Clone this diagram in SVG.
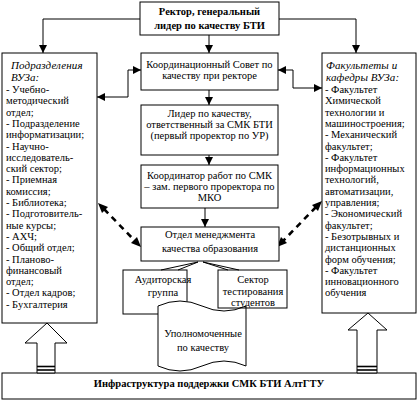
<svg xmlns="http://www.w3.org/2000/svg" width="419" height="412" viewBox="0 0 419 412">
<style>
.box{fill:#fff;stroke:#000;stroke-width:1}
.ln{fill:none;stroke:#000;stroke-width:1}
.dash{fill:none;stroke:#000;stroke-width:2.6;stroke-dasharray:6,5}
text{font-family:"Liberation Serif","Times New Roman",serif;font-size:10.5px;fill:#000}
.c{text-anchor:middle}
.b{font-weight:bold}
.h{font-style:italic;font-size:11px;letter-spacing:0.1px}
</style>
<defs>
<marker id="ah" markerUnits="userSpaceOnUse" markerWidth="9" markerHeight="9" refX="8" refY="4.5" orient="auto-start-reverse">
<path d="M0,0.5 L8,4.5 L0,8.5 Z" fill="#000"/>
</marker>
</defs>
<rect width="419" height="412" fill="#fff"/>
<g id="connectors">
<polyline class="ln" points="140,19 43,19 43,53" marker-end="url(#ah)"/>
<polyline class="ln" points="279,19 356,19 356,53" marker-end="url(#ah)"/>
<line class="ln" x1="209" y1="35" x2="209" y2="53" marker-end="url(#ah)"/>
<line class="ln" x1="209" y1="90" x2="209" y2="105" marker-end="url(#ah)"/>
<line class="ln" x1="209" y1="155" x2="209" y2="165" marker-end="url(#ah)"/>
<line class="ln" x1="205" y1="208" x2="205" y2="227" marker-end="url(#ah)"/>
<polyline class="ln" points="97,97 128,97 128,70 141,70" marker-start="url(#ah)" marker-end="url(#ah)"/>
<polyline class="ln" points="278,70 293,70 293,88 322,88" marker-start="url(#ah)" marker-end="url(#ah)"/>
<line class="dash" x1="104" y1="209" x2="136" y2="242"/>
<path d="M98,203 L108,207 L102,213 Z" fill="#000"/>
<path d="M141,247 L131,243 L137,237 Z" fill="#000"/>
<line class="dash" x1="316" y1="207" x2="283" y2="241"/>
<path d="M322,201 L318,211 L312,205 Z" fill="#000"/>
<path d="M277,247 L281,237 L287,243 Z" fill="#000"/>
</g>
<g id="top">
<rect class="box" x="140" y="2" width="139" height="33"/>
<text class="c b" x="209.5" y="15">Ректор, генеральный</text>
<text class="c b" x="209.5" y="29">лидер по качеству БТИ</text>
</g>
<g id="left">
<rect class="box" x="2" y="53" width="95" height="270"/>
<text class="h" x="11" y="69">Подразделения</text>
<text class="h" x="11" y="81">ВУЗа:</text>
<text x="6" y="93">- Учебно-</text>
<text x="6" y="104.3">методический</text>
<text x="6" y="115.6">отдел;</text>
<text x="6" y="126.9">- Подразделение</text>
<text x="6" y="138.2">информатизации;</text>
<text x="6" y="149.5">- Научно-</text>
<text x="6" y="160.8">исследователь-</text>
<text x="6" y="172.1">ский сектор;</text>
<text x="6" y="183.4">- Приемная</text>
<text x="6" y="194.7">комиссия;</text>
<text x="6" y="206">- Библиотека;</text>
<text x="6" y="217.3">- Подготовитель-</text>
<text x="6" y="228.6">ные курсы;</text>
<text x="6" y="239.9">- АХЧ;</text>
<text x="6" y="251.2">- Общий отдел;</text>
<text x="6" y="262.5">- Планово-</text>
<text x="6" y="273.8">финансовый</text>
<text x="6" y="285.1">отдел;</text>
<text x="6" y="296.4">- Отдел кадров;</text>
<text x="6" y="307.7">- Бухгалтерия</text>
</g>
<g id="right">
<rect class="box" x="322" y="53" width="94" height="260"/>
<text class="h" x="326" y="69">Факультеты и</text>
<text class="h" x="326" y="81">кафедры ВУЗа:</text>
<text x="325" y="93">- Факультет</text>
<text x="325" y="104.3">Химической</text>
<text x="325" y="115.6">технологии и</text>
<text x="325" y="126.9">машиностроения;</text>
<text x="325" y="138.2">- Механический</text>
<text x="325" y="149.5">факультет;</text>
<text x="325" y="160.8">- Факультет</text>
<text x="325" y="172.1">информационных</text>
<text x="325" y="183.4">технологий,</text>
<text x="325" y="194.7">автоматизации,</text>
<text x="325" y="206">управления;</text>
<text x="325" y="217.3">- Экономический</text>
<text x="325" y="228.6">факультет;</text>
<text x="325" y="239.9">- Безотрывных и</text>
<text x="325" y="251.2">дистанционных</text>
<text x="325" y="262.5">форм обучения;</text>
<text x="325" y="273.8">- Факультет</text>
<text x="325" y="285.1">инновационного</text>
<text x="325" y="296.4">обучения</text>
</g>
<g id="sovet">
<rect class="box" x="141" y="53" width="137" height="37"/>
<text class="c" x="209.5" y="68">Координационный Совет по</text>
<text class="c" x="209.5" y="79">качеству при ректоре</text>
</g>
<g id="lider">
<rect class="box" x="141" y="105" width="137" height="50"/>
<text class="c" x="209.5" y="117">Лидер по качеству,</text>
<text class="c" x="209.5" y="127.5">ответственный за СМК БТИ</text>
<text class="c" x="209.5" y="138.5">(первый проректор по  УР)</text>
</g>
<g id="koord">
<rect class="box" x="141" y="165" width="137" height="43"/>
<text class="c" x="209.5" y="179">Координатор работ по СМК</text>
<text class="c" x="209.5" y="190">– зам. первого проректора по</text>
<text class="c" x="209.5" y="201">МКО</text>
</g>
<g id="otdel">
<rect class="box" x="141" y="227" width="138" height="34"/>
<text class="c" x="210" y="238">Отдел менеджмента</text>
<text class="c" x="210" y="252">качества образования</text>
</g>
<g id="auditor">
<rect class="box" x="123" y="270" width="64" height="44"/>
<polyline class="ln" points="161,270 198,262 178,270"/>
<text class="c" x="163" y="283">Аудиторская</text>
<text class="c" x="163" y="296">группа</text>
</g>
<g id="upoln">
<path class="box" d="M158,306 Q180,296 202,306 T246,306 L246,366 Q224,356 202,366 T158,366 Z"/>
<text class="c" x="203" y="337">Уполномоченные</text>
<text class="c" x="203" y="351">по качеству</text>
</g>
<g id="sektor">
<rect x="218" y="270" width="69" height="38" fill="none" stroke="#000" stroke-width="1"/>
<polyline class="ln" points="228,270 203,262 239,270"/>
<text class="c" x="253" y="283">Сектор</text>
<text class="c" x="253" y="295">тестирования</text>
<text class="c" x="253" y="306">студентов</text>
</g>
<g id="infra">
<rect class="box" x="2" y="373" width="414" height="26"/>
<text class="c b" x="209" y="387">Инфраструктура поддержки СМК БТИ АлтГТУ</text>
</g>
<g id="arrowL">
<polygon class="box" points="37,373 37,343 25,343 47,323 67,343 55,343 55,373"/>
<line x1="37" y1="366.5" x2="55" y2="366.5" stroke="#000" stroke-width="1.6"/>
<line x1="37" y1="370" x2="55" y2="370" stroke="#000" stroke-width="1.6"/>
</g>
<g id="arrowR">
<polygon class="box" points="357,373 357,330 348,330 368,313 387,330 377,330 377,373"/>
<line x1="357" y1="366.5" x2="377" y2="366.5" stroke="#000" stroke-width="1.6"/>
<line x1="357" y1="370" x2="377" y2="370" stroke="#000" stroke-width="1.6"/>
</g>
</svg>
